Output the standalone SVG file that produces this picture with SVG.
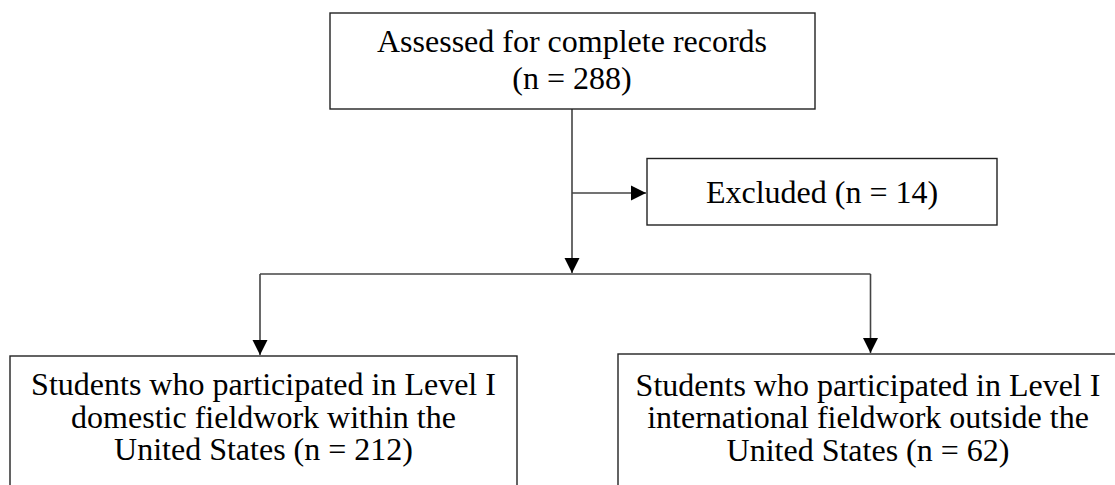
<svg xmlns="http://www.w3.org/2000/svg" width="1115" height="485" viewBox="0 0 1115 485">
<style>
.box{fill:#fff;stroke:#222;stroke-width:1.4}
.t{font-family:"Liberation Serif","Times New Roman",serif;font-size:32px;fill:#000;text-anchor:middle}
.c{fill:none;stroke:#444;stroke-width:1.6}
</style>
<defs>
<marker id="ah" viewBox="0 0 10 10" refX="10" refY="5" markerWidth="15" markerHeight="16" markerUnits="userSpaceOnUse" orient="auto">
<path d="M0,0 L10,5 L0,10 z" fill="#000"/>
</marker>
</defs>
<rect width="1115" height="485" fill="#fff"/>
<g id="connectors">
<path class="c" d="M572,109 V273" marker-end="url(#ah)"/>
<path class="c" d="M572,193 H646" marker-end="url(#ah)"/>
<path class="c" d="M260,274 H870.5"/>
<path class="c" d="M260,274 V355" marker-end="url(#ah)"/>
<path class="c" d="M870.5,274 V353" marker-end="url(#ah)"/>
</g>
<g id="assessed">
<rect class="box" x="330" y="13" width="485" height="96"/>
<text class="t" x="572" y="52">Assessed for complete records</text>
<text class="t" x="572" y="89">(n = 288)</text>
</g>
<g id="excluded">
<rect class="box" x="647" y="158.5" width="350" height="66.5"/>
<text class="t" x="822" y="203">Excluded (n = 14)</text>
</g>
<g id="domestic">
<rect class="box" x="10" y="356" width="507" height="140"/>
<text class="t" x="263.5" y="395">Students who participated in Level I</text>
<text class="t" x="263.5" y="428">domestic fieldwork within the</text>
<text class="t" x="263.5" y="460">United States (n = 212)</text>
</g>
<g id="international">
<rect class="box" x="618" y="354" width="505" height="142"/>
<text class="t" x="868" y="396">Students who participated in Level I</text>
<text class="t" x="868" y="428">international fieldwork outside the</text>
<text class="t" x="868" y="461">United States (n = 62)</text>
</g>
</svg>
